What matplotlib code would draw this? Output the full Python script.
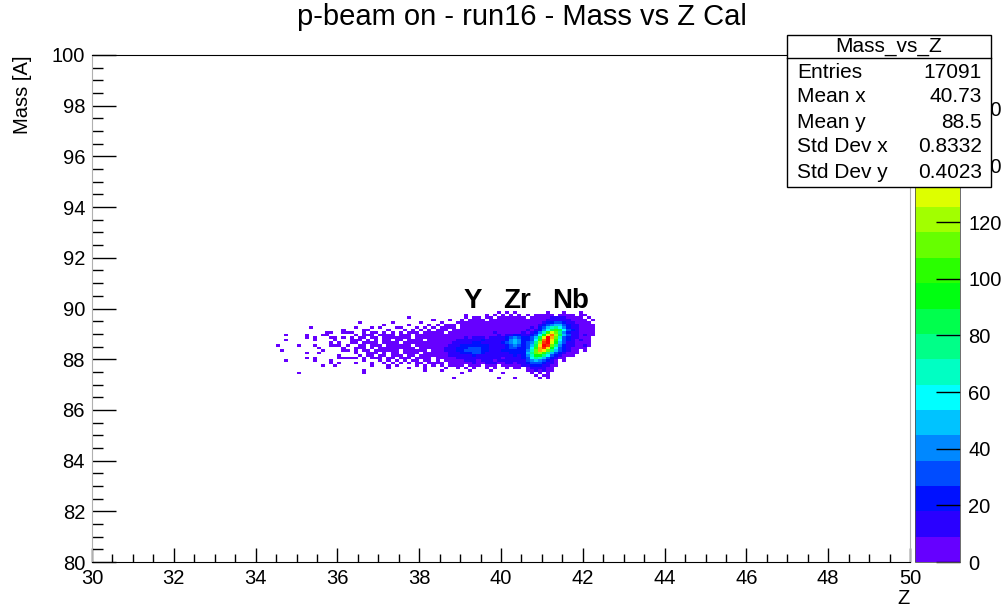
import colorsys
import numpy as np
import matplotlib
matplotlib.use("Agg")
import matplotlib.pyplot as plt
from matplotlib.colors import ListedColormap, BoundaryNorm
from matplotlib.cm import ScalarMappable
from matplotlib.ticker import MultipleLocator
from matplotlib.patches import Rectangle
from matplotlib.lines import Line2D

plt.rcParams['font.family'] = ['Liberation Sans', 'DejaVu Sans']

# histogram binning (Z: 0.1 per bin, Mass: 0.1 per bin)
z_first_bin = 34.4
mass_first_bin = 87.2
bin_width = 0.1
z_max_count = 179
n_levels = 20

# colour band of every filled cell
# '.' = empty, '0'..'9','a'..'j' = colour band 0..19
# one string per mass row, from 89.8 (top) down to 87.2, columns from Z = 34.4
mass_rows = [
    ".......... .......... .......... .......... .......... .....0.0.0 .......0.. .0...0....",
    ".......... .......... .......... .......... .......0.. ..0.0.0.0. 0.0.00000. 0000.00...",
    ".......... .......... .......... ...0...... .......0.0 0.00.00000 00.0000011 110000.0..",
    ".......... .......... .......... .........0 ...0..0.00 00.0000000 0000000111 1110000.0.",
    ".......... .......... .0.......0 ......0... .0...00000 0000000000 0000001223 32110000..",
    ".......... .......... .......0.. ...0....0. 0.000.0000 0000000000 0000012345 532110000.",
    ".........0 .......... 0...0.0... 00...0.0.0 .0000.0000 0000000000 0001023578 642110000.",
    ".......... .......0.. ..00....0. ..0.0.0.0. 000.000000 0000000000 001012469b 963210000.",
    ".......... ...00..000 ..0.00.0.0 .0.000.000 00.0000000 0000100000 0101247bec 842110000.",
    "...0....0. ..00...... 0.000.0000 .000.00000 0000000000 0000010112 211236afhd 953110100.",
    "........0. 0...00.0.0 .00.00.000 0000.00000 0000000101 1101111234 322359ejgc 73211000..",
    "...0...... 0....0...0 00.0.0.00. 00.0000.00 0000011111 1211111245 42236bhjfb 63210100..",
    ".......... ....0.0..0 0.0000.000 0.00000000 0000111112 2111112345 42348dijea 53110000..",
    ".0....0... 0...000.0. .00.000.00 0000.00000 0001112222 2221111234 32359fjic8 42110010..",
    ".......... .0.....0.. 000.0.0000 00000.0000 0011122233 3221111233 2236bgifa6 3210000...",
    "..0....... ..0....00. 0.00.00000 0.000000.0 0011122333 3221112222 2247cgfc85 32100.0...",
    "........0. .0........ 0..000.0.0 0.0000.000 0001112223 3211111122 2258cdb853 21000.....",
    ".......... ......0... .0.00.00.0 00.00.0000 0001111112 1111111112 1247aa8632 1000......",
    "........0. 0.....0000 0.0.000.00 .000.0000. 0000011111 1111110111 1236875321 00........",
    "...0...... 0...0..... ..0...0.0. 0.0.00.00. 0.00000111 0111011111 1134543210 .0........",
    ".......... ....0.0... 0...0..0.0 .0.0.00.00 00.0000001 0011100110 1123332110 ..........",
    ".......... ..0..0.... ....0...0. 0....0.0.0 .0.0000.00 0.000.0000 0112221100 ..........",
    ".......... .......... ........0. ...0...0.. ..0..0.0.0 ..0.0..0.0 0.0111100. ..........",
    ".......... .......... ..0....... .......0.. .0......0. ...0...... ..0010100. ..........",
    "......0... .......... ..0....... .......... ......0... ......0... ...0.0.0.. ..........",
    ".......... .......... .......... .......... .......... .......... ....0.00.. ..........",
    ".......... .......... .......... .......... ....0..... .....0...0 .....0.0.. ..........",
]

element_names = ['Y', 'Zr', 'Nb']
element_z = [39.32, 40.39, 41.69]

stats_title = 'Mass_vs_Z'
stats_names = ['Entries', 'Mean x', 'Mean y', 'Std Dev x', 'Std Dev y']
stats_values = ['17091', '40.73', '88.5', '0.8332', '0.4023']

band_codes = '0123456789abcdefghij'


def decode_rows(rows):
    grid = []
    for r in rows[::-1]:
        r = r.replace(' ', '')
        grid.append([np.nan if ch == '.' else (band_codes.index(ch) + 0.5) * z_max_count / n_levels
                     for ch in r])
    return np.array(grid)


counts = decode_rows(mass_rows)
z_edges = z_first_bin + bin_width * np.arange(counts.shape[1] + 1)
m_edges = mass_first_bin + bin_width * np.arange(counts.shape[0] + 1)

# ROOT-like rainbow palette, 20 contour levels
colors = [colorsys.hsv_to_rgb(max(264 - 14 * i, 0) / 360, 1, 1) for i in range(n_levels)]
cmap = ListedColormap(colors)
levels = np.linspace(0, z_max_count, n_levels + 1)
norm = BoundaryNorm(levels, cmap.N)

fig = plt.figure(figsize=(10.02, 6.10), dpi=100)
W, H = 1002, 610
ax = fig.add_axes([92 / W, 1 - 562 / H, 818 / W, 507 / H])

ax.pcolormesh(z_edges, m_edges, np.ma.masked_invalid(counts), cmap=cmap, norm=norm,
              antialiased=False, edgecolors='none')

ax.set_xlim(30, 50)
ax.set_ylim(80, 100)
ax.xaxis.set_major_locator(MultipleLocator(2))
ax.xaxis.set_minor_locator(MultipleLocator(0.5))
ax.yaxis.set_major_locator(MultipleLocator(2))
ax.yaxis.set_minor_locator(MultipleLocator(0.5))
ax.tick_params(axis='x', which='major', direction='in', length=10, width=1, labelsize=14.5, pad=5)
ax.tick_params(axis='x', which='minor', direction='in', length=5.5, width=1)
ax.tick_params(axis='y', which='major', direction='in', length=17, width=1, labelsize=14.5, pad=5)
ax.tick_params(axis='y', which='minor', direction='in', length=8, width=1)
for side in ['left', 'right']:
    ax.spines[side].set_color('#b0b0b0')
for side in ['top', 'bottom']:
    ax.spines[side].set_color('black')

for name, z in zip(element_names, element_z):
    ax.text(z, 90.0, name, ha='center', va='baseline', fontsize=20, fontweight='bold')

fig.text(522 / W, 1 - 17 / H, 'p-beam on - run16 - Mass vs Z Cal', ha='center', va='center', fontsize=21)
fig.text(22 / W, 1 - 55 / H, 'Mass [A]', rotation=90, ha='center', va='top', fontsize=14.5)
fig.text(910 / W, 1 - 598 / H, 'Z', ha='right', va='center', fontsize=14.5)

# colour scale
cax = fig.add_axes([915 / W, 1 - 562 / H, 45 / W, 507 / H])
cb = fig.colorbar(ScalarMappable(norm=norm, cmap=cmap), cax=cax, ticks=np.arange(0, 180, 20))
cb.outline.set_linewidth(0.6)
cb.outline.set_edgecolor('#555555')
cax.tick_params(direction='in', length=17, width=1, labelsize=14.5, pad=6)
cax.minorticks_off()

# stats box
box_l, box_r, box_t, box_b = 787, 991, 35, 187
fig.add_artist(Rectangle((box_l / W, 1 - box_b / H), (box_r - box_l) / W, (box_b - box_t) / H,
                         transform=fig.transFigure, facecolor='white', edgecolor='black',
                         linewidth=1, zorder=10))
fig.add_artist(Line2D([box_l / W, box_r / W], [1 - 58 / H, 1 - 58 / H], transform=fig.transFigure,
                      color='black', linewidth=1, zorder=11))
fig.text((box_l + box_r) / 2 / W, 1 - 46 / H, stats_title, ha='center', va='center',
         fontsize=15, zorder=12)
for i, (name, val) in enumerate(zip(stats_names, stats_values)):
    y = 1 - (72 + 25 * i) / H
    fig.text(797 / W, y, name, ha='left', va='center', fontsize=15, zorder=12)
    fig.text(982 / W, y, val, ha='right', va='center', fontsize=15, zorder=12)

fig.savefig('out.png', dpi=100)
